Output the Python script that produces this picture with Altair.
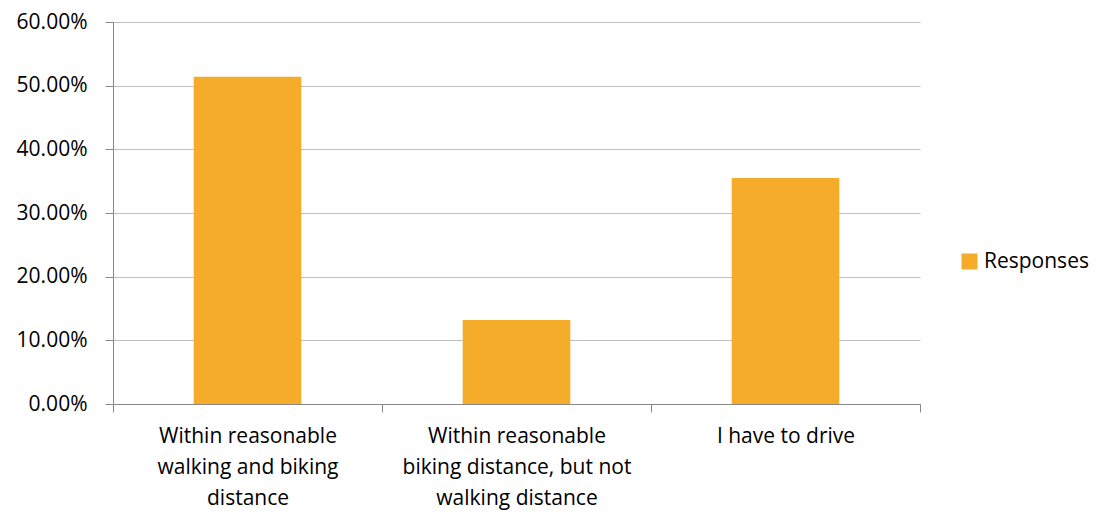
import altair as alt
import pandas as pd

categories = [
    "Within reasonable|walking and biking|distance",
    "Within reasonable|biking distance, but not|walking distance",
    "I have to drive",
]
values = [0.5140, 0.1320, 0.3550]
series = ["Responses", "Responses", "Responses"]

df = pd.DataFrame({"category": categories, "value": values, "series": series})

FONT = "Open Sans"

chart = alt.Chart(df).mark_bar(width=alt.RelativeBandSize(0.4)).encode(
    x=alt.X(
        "category:N",
        sort=categories,
        title=None,
        scale=alt.Scale(paddingInner=0, paddingOuter=0),
        axis=alt.Axis(
            labelAngle=0,
            labelExpr="split(datum.label, '|')",
            labelFont=FONT,
            labelFontSize=21,
            labelColor="#000000",
            labelLineHeight=31,
            labelBaseline="top",
            labelPadding=13,
            tickBand="extent",
            tickSize=8,
            tickColor="#888888",
            domainColor="#888888",
            grid=False,
            labelLimit=400,
        ),
    ),
    y=alt.Y(
        "value:Q",
        title=None,
        scale=alt.Scale(domain=[0, 0.6], nice=False),
        axis=alt.Axis(
            format=".2%",
            values=[0, 0.1, 0.2, 0.3, 0.4, 0.5, 0.6],
            labelFont=FONT,
            labelFontSize=21,
            labelColor="#000000",
            labelPadding=18,
            tickSize=8,
            tickColor="#888888",
            domainColor="#888888",
            gridColor="#BFBFBF",
            minExtent=105,
            maxExtent=105,
        ),
    ),
    color=alt.Color(
        "series:N",
        scale=alt.Scale(range=["#F5AC2A"]),
        legend=alt.Legend(
            title=None,
            orient="none",
            legendX=846,
            legendY=229,
            symbolType="square",
            symbolSize=256,
            symbolStrokeWidth=0,
            labelFont=FONT,
            labelFontSize=21,
            labelColor="#000000",
            labelOffset=4,
        ),
    ),
).properties(
    width=807,
    height=382,
    padding={"left": 0, "top": 3, "right": 0, "bottom": 15},
).configure_view(stroke=None).configure_axis(
    domainWidth=1, tickWidth=1, gridWidth=1
)

chart.save("out.html", embed_options={"renderer": "svg", "actions": False})
